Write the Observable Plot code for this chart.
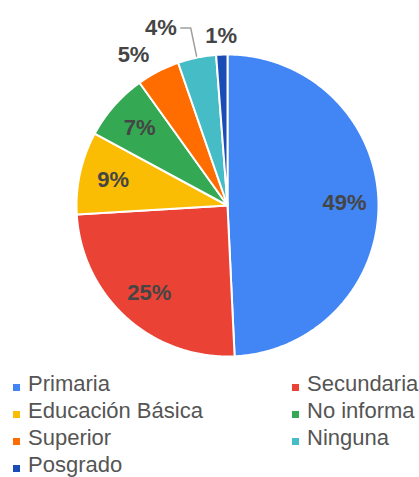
<!DOCTYPE html>
<html>
<head>
<meta charset="utf-8">
<script src="https://cdn.jsdelivr.net/npm/d3@7"></script>
<script src="https://cdn.jsdelivr.net/npm/@observablehq/plot@0.6"></script>
<style>
  html, body { margin: 0; padding: 0; background: #fff; }
  body { width: 419px; height: 477px; overflow: hidden; font-family: "Liberation Sans", Arial, sans-serif; }
  #legend {
    display: grid;
    grid-template-columns: 279px auto;
    padding: 5px 0 0 13px;
    font-size: 22px;
    line-height: 27px;
    color: #555;
    white-space: nowrap;
  }
  .sw { display: inline-block; width: 7px; height: 7px; margin-right: 8px; vertical-align: baseline; }
</style>
</head>
<body>
<div id="chart"></div>
<div id="legend"></div>
<script>
// ---- data ----
const categories = ["Primaria", "Secundaria", "Educación Básica", "No informa", "Superior", "Ninguna", "Posgrado"];
const shares = [49.25, 24.8, 8.85, 7.2, 4.6, 4.1, 1.2];
const labels = ["49%", "25%", "9%", "7%", "5%", "4%", "1%"];
const colors = ["#4285F4", "#EA4335", "#FBBC04", "#34A853", "#FF6D01", "#46BDC6", "#1A4CB5"];
const outsideLabels = ["Superior", "Ninguna", "Posgrado"];
const leaderLabels = ["Ninguna"];

// ---- layout ----
const W = 419, H = 365, cx = 227, cy = 205, R = 151;

const rows = categories.map((name, i) => ({name, value: shares[i], label: labels[i]}));
const arcs = d3.pie().sort(null).value(d => d.value)(rows);

// polygon points for each slice (unit circle space)
const slicePts = [];
for (const a of arcs) {
  slicePts.push({name: a.data.name, x: 0, y: 0});
  const n = Math.max(2, Math.ceil((a.endAngle - a.startAngle) / (Math.PI / 360)));
  for (let k = 0; k <= n; k++) {
    const t = a.startAngle + (a.endAngle - a.startAngle) * k / n;
    slicePts.push({name: a.data.name, x: Math.sin(t), y: Math.cos(t)});
  }
}

// label positions
const lab = arcs.map(a => {
  const mid = (a.startAngle + a.endAngle) / 2;
  const out = outsideLabels.includes(a.data.name);
  const lead = leaderLabels.includes(a.data.name);
  let r = out ? 1.125 : 0.775;
  let x = Math.sin(mid) * r, y = Math.cos(mid) * r;
  let anchor = "middle";
  if (out) anchor = Math.sin(mid) < -0.3 ? "end" : Math.sin(mid) > 0.3 ? "start" : "middle";
  let leader = null;
  if (lead) {
    const ex = Math.sin(mid) * 1.2, ey = Math.cos(mid) * 1.2;
    leader = [
      {x: Math.sin(mid) * 1.01, y: Math.cos(mid) * 1.01},
      {x: ex, y: ey},
      {x: ex - 0.066, y: ey}
    ];
    x = ex - 0.093; y = ey; anchor = "end";
  }
  return {name: a.data.name, text: a.data.label, x, y, anchor, leader};
});
const leaderPts = lab.filter(d => d.leader).flatMap(d => d.leader.map(p => ({...p, name: d.name})));

const textStyle = {fill: "#454545", fontSize: 22, fontWeight: "bold"};

const plot = Plot.plot({
  width: W,
  height: H,
  margin: 0,
  style: {fontFamily: "'Liberation Sans', Arial, sans-serif", background: "#fff", overflow: "visible"},
  x: {domain: [-1, 1], range: [cx - R, cx + R], axis: null},
  y: {domain: [-1, 1], range: [cy + R, cy - R], axis: null},
  color: {domain: categories, range: colors},
  marks: [
    Plot.line(slicePts, {x: "x", y: "y", z: "name", fill: "name", stroke: "white", strokeWidth: 2, strokeLinejoin: "round", curve: "linear-closed"}),
    Plot.line(leaderPts, {x: "x", y: "y", z: "name", stroke: "#9e9e9e", strokeWidth: 1.5}),
    ...["start", "middle", "end"].map(anc =>
      Plot.text(lab.filter(d => d.anchor === anc), {x: "x", y: "y", text: "text", textAnchor: anc, ...textStyle})
    )
  ]
});
document.getElementById("chart").appendChild(plot);

// legend (row-major, two columns)
const legend = document.getElementById("legend");
categories.forEach((name, i) => {
  const item = document.createElement("div");
  const sw = document.createElement("span");
  sw.className = "sw";
  sw.style.background = colors[i];
  item.appendChild(sw);
  item.appendChild(document.createTextNode(name));
  legend.appendChild(item);
});
</script>
</body>
</html>
